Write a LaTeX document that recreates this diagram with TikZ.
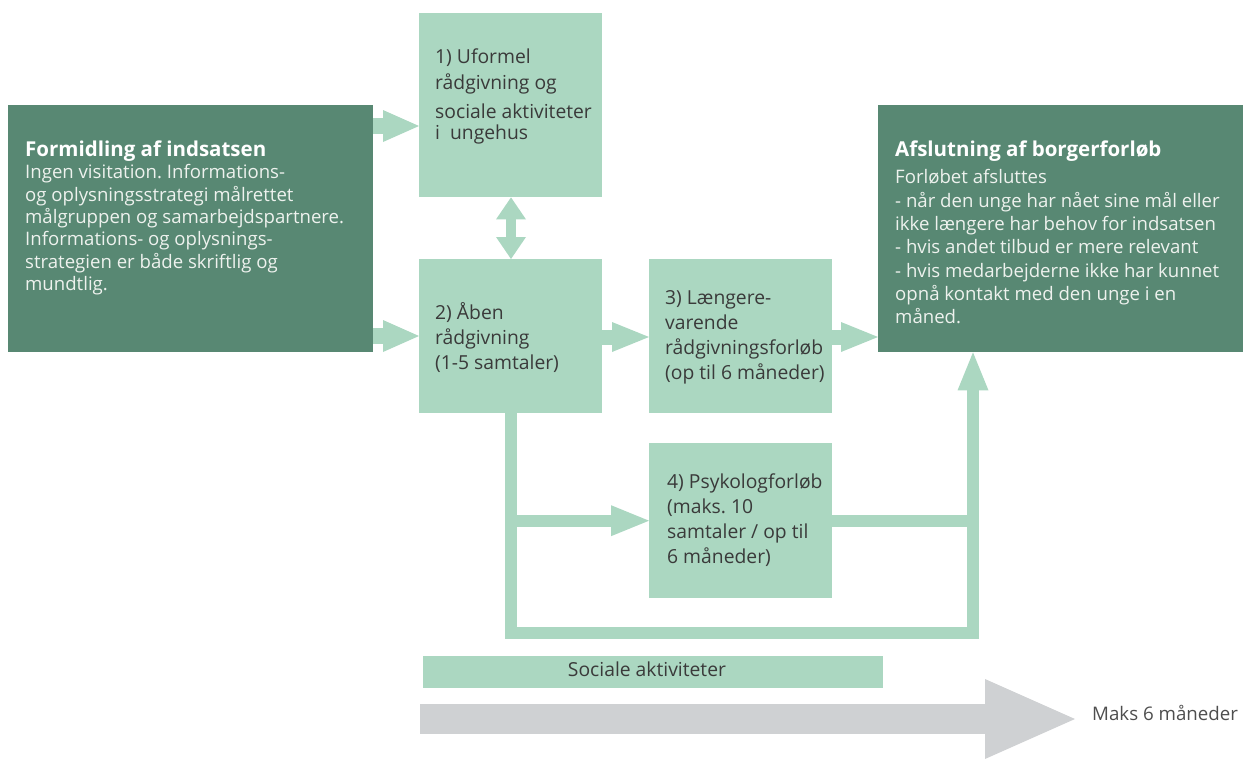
\documentclass[tikz,border=0pt]{standalone}
\usepackage{fontspec}
\setmainfont{Open Sans}
\usetikzlibrary{arrows.meta}
\frenchspacing

\definecolor{darkgreen}{RGB}{88,136,115}
\definecolor{lightgreen}{RGB}{171,215,193}
\definecolor{timegray}{RGB}{207,209,211}
\definecolor{boxtext}{RGB}{58,58,58}
\definecolor{paletext}{RGB}{238,242,238}

% fixed height for the first line of a text block
\newcommand\firstline{\rule{0pt}{14pt}}
% bold heading of a dark box
\newcommand\boxhead[1]{\textcolor{white}{\fontsize{20.5}{22}\selectfont\textbf{#1}}}

\begin{document}
\begin{tikzpicture}[x=1pt,y=-1pt,
  darkbox/.style={fill=darkgreen, draw=none, inner sep=0pt, anchor=north west},
  lightbox/.style={fill=lightgreen, draw=none, inner sep=0pt, anchor=north west},
  darktxt/.style={anchor=north west, inner sep=0pt, align=left, text=paletext},
  lighttxt/.style={anchor=north west, inner sep=0pt, align=left, text=boxtext,
    font=\fontsize{19.3}{25}\selectfont},
  fatarrow/.style={draw=lightgreen, line width=16pt,
    -{Triangle[width=32pt,length=36pt,line width=0pt]}},
  twoway/.style={draw=lightgreen, line width=10pt,
    {Triangle[width=30pt,length=22pt,line width=0pt]}-{Triangle[width=30pt,length=22pt,line width=0pt]}},
  pathline/.style={draw=lightgreen, line width=12pt, line join=miter},
  pathtip/.style={-{Triangle[width=31pt,length=38pt,line width=0pt]}},
]
\useasboundingbox (0,0) rectangle (1248,758);

% boxes
\node[darkbox, minimum width=365pt, minimum height=247pt] (fm) at (8,105) {};
\node[darkbox, minimum width=365pt, minimum height=247pt] (af) at (878,105) {};
\node[lightbox, minimum width=183pt, minimum height=184pt] (b1) at (419,13) {};
\node[lightbox, minimum width=183pt, minimum height=154pt] (b2) at (419,259) {};
\node[lightbox, minimum width=183pt, minimum height=154pt] (b3) at (649,259) {};
\node[lightbox, minimum width=183pt, minimum height=155pt] (b4) at (649,443) {};
\node[lightbox, minimum width=460pt, minimum height=32pt] (bar) at (423,656) {};

% texts of the dark boxes
\node[darktxt, font=\fontsize{18.6}{22.3}\selectfont] (fmtext) at (25,141)
  {\firstline\boxhead{Formidling af indsatsen}\\[-0.3pt]
   Ingen visitation. Informations-\\
   og oplysningsstrategi målrettet\\
   målgruppen og samarbejdspartnere.\\
   Informations- og oplysnings-\\
   strategien er både skriftlig og\\
   mundtlig.};
\node[darktxt, font=\fontsize{18.6}{23.3}\selectfont] (aftext) at (895,141)
  {\firstline\boxhead{Afslutning af borgerforløb}\\[3.7pt]
   Forløbet afsluttes\\
   - når den unge har nået sine mål eller\\
   ikke længere har behov for indsatsen\\
   - hvis andet tilbud er mere relevant\\
   - hvis medarbejderne ikke har kunnet\\
   opnå kontakt med den unge i en\\
   måned.};

% texts of the light boxes
\node[lighttxt] (b1text) at (435,49)
  {\firstline 1) Uformel\\[1pt] rådgivning og\\[4pt] sociale aktiviteter\\[-4pt] i\ \ ungehus};
\node[lighttxt] (b2text) at (435,302)
  {\firstline 2) Åben\\ rådgivning\\ (1-5 samtaler)};
\node[lighttxt] (b3text) at (665,290)
  {\firstline 3) Længere-\\ varende\\ rådgivningsforløb\\ (op til 6 måneder)};
\node[lighttxt] (b4text) at (667,474)
  {\firstline 4) Psykologforløb\\ (maks. 10\\ samtaler / op til\\ 6 måneder)};
\node[inner sep=0pt, anchor=mid, text=boxtext, font=\fontsize{19.3}{22}\selectfont]
  (bartext) at (647,674) {Sociale aktiviteter};

% connectors
\draw[fatarrow] (fm.east |- 0,126) -- (b1.west |- 0,126);
\draw[fatarrow] (fm.east |- 0,336) -- (b2.west |- 0,336);
\draw[twoway] (b1.south -| 511,0) -- (b2.north -| 511,0);
\draw[fatarrow, line width=15pt, -{Triangle[width=30pt,length=37pt,line width=0pt]}]
  (b2.east |- 0,337) -- (b3.west |- 0,337);
\draw[fatarrow, line width=15pt, -{Triangle[width=30pt,length=37pt,line width=0pt]}]
  (b3.east |- 0,337) -- (af.west |- 0,337);

\coordinate (c1) at (b2.south |- 0,633);
\coordinate (c2) at (973,633);
\draw[pathline, pathtip] (b2.south) -- (c1) -- (c2) -- (c2 |- af.south);
\draw[pathline, pathtip] (b2.south |- b4.west) -- (b4.west);
\draw[pathline] (b4.east) -- (c2 |- b4.east);

% time line
\coordinate (t0) at (420,719);
\coordinate (t1) at (1075,719);
\draw[draw=timegray, line width=30pt, -{Triangle[width=80pt,length=90pt,line width=0pt]}] (t0) -- (t1);
\node[inner sep=0pt, anchor=mid west, text=boxtext!90, font=\fontsize{18.7}{22}\selectfont]
  (maks) at (1092,718) {Maks 6 måneder};
\end{tikzpicture}
\end{document}
